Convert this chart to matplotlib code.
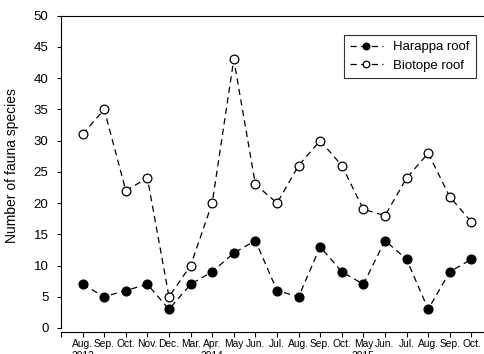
import matplotlib
matplotlib.use("Agg")
import matplotlib.pyplot as plt

plt.rcParams['font.family'] = ['Liberation Sans', 'DejaVu Sans']

months = ["Aug.", "Sep.", "Oct.", "Nov.", "Dec.", "Mar.", "Apr.", "May", "Jun.", "Jul.",
          "Aug.", "Sep.", "Oct.", "May", "Jun.", "Jul.", "Aug.", "Sep.", "Oct."]
years = {0: "2013", 6: "2014", 13: "2015"}
harappa = [7, 5, 6, 7, 3, 7, 9, 12, 14, 6, 5, 13, 9, 7, 14, 11, 3, 9, 11]
biotope = [31, 35, 22, 24, 5, 10, 20, 43, 23, 20, 26, 30, 26, 19, 18, 24, 28, 21, 17]

W, H = 485, 354
fig = plt.figure(figsize=(W / 100, H / 100), dpi=100)
left_px, top_px, bottom_px = 61, 15.7, 328
width_px = 21.6 * 20
height_px = bottom_px - top_px
ax = fig.add_axes([left_px / W, (H - bottom_px) / H, width_px / W, height_px / H])

x = list(range(1, len(months) + 1))
dash = (0, (5, 3.5))
ax.plot(x, harappa, linestyle=dash, color='black', lw=0.9, marker='o', ms=6.3,
        mfc='black', mec='black', label='Harappa roof')
ax.plot(x, biotope, linestyle=dash, color='black', lw=0.9, marker='o', ms=6.3,
        mfc='white', mec='black', mew=0.9, label='Biotope roof')

ax.set_xlim(0, 20)
ax.set_ylim(0, 50)
ax.set_yticks(range(0, 51, 5))
ax.tick_params(axis='y', labelsize=9.5, length=3, width=0.8, pad=6, direction='out')

labels = []
for i, m in enumerate(months):
    labels.append(m + ("\n" + years[i] if i in years else ""))
ax.set_xticks([0] + x)
ax.set_xticklabels([""] + labels, linespacing=1.25)
ax.tick_params(axis='x', labelsize=7.4, length=3.5, width=0.8, pad=1.5, direction='out')

ax.spines['bottom'].set_position(('outward', 3))
for s in ax.spines.values():
    s.set_linewidth(0.8)

ax.set_ylabel("Number of fauna species", fontsize=10)
ax.yaxis.set_label_coords(-(left_px - 19) / width_px, (bottom_px - 166) / height_px)

leg = ax.legend(loc='upper left',
                bbox_to_anchor=((344 - left_px) / width_px, (bottom_px - 35) / height_px),
                borderaxespad=0,
                fontsize=9.5, frameon=True, fancybox=False, edgecolor='black',
                handlelength=2.5, handletextpad=0.8, borderpad=0.45, labelspacing=0.5,
                markerscale=0.75)
leg.get_frame().set_linewidth(0.8)

fig.savefig("out.png", dpi=100)
